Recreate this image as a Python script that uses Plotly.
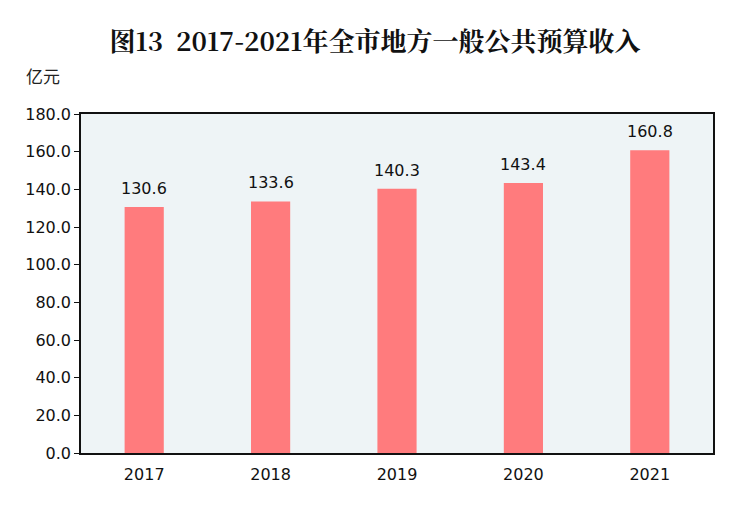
import plotly.graph_objects as go

years = ["2017", "2018", "2019", "2020", "2021"]
revenue = [130.6, 133.6, 140.3, 143.4, 160.8]
y_ticks = [0, 20, 40, 60, 80, 100, 120, 140, 160, 180]
y_tick_labels = [f"{v:.1f}" for v in y_ticks]

fig = go.Figure()
fig.add_trace(go.Bar(
    x=years, y=revenue, width=0.31,
    marker=dict(color="#FF7B7D", line=dict(width=0)),
))

label_annotations = [
    dict(x=i, y=v, xref="x", yref="y", text=f"{v:.1f}", showarrow=False,
         xanchor="center", yanchor="bottom", yshift=7,
         font=dict(family="DejaVu Sans", size=16, color="#111111"))
    for i, v in enumerate(revenue)
]

fig.update_layout(
    width=750, height=516,
    paper_bgcolor="white", plot_bgcolor="#EEF4F6",
    margin=dict(l=81, r=37, t=114, b=63),
    showlegend=False,
    title=dict(text="<b>图13  2017-2021年全市地方一般公共预算收入</b>",
               x=0.5, xanchor="center", y=0.918, yanchor="middle",
               font=dict(family="Noto Serif CJK SC, Noto Sans CJK SC", size=26, color="#111111")),
    xaxis=dict(type="category", range=[-0.5, len(years) - 0.5],
               showline=True, linecolor="#111111", linewidth=1.5, mirror=True,
               ticks="outside", ticklen=6, tickcolor="rgba(0,0,0,0)",
               tickfont=dict(family="DejaVu Sans", size=16, color="#111111"),
               showgrid=False),
    yaxis=dict(range=[0, 180], tickvals=y_ticks, ticktext=y_tick_labels,
               showline=True, linecolor="#111111", linewidth=1.5, mirror=True,
               ticks="outside", ticklen=5, tickcolor="#111111",
               tickfont=dict(family="DejaVu Sans", size=16, color="#111111"),
               showgrid=False, zeroline=False),
    annotations=label_annotations + [
        dict(text="亿元", xref="paper", yref="paper", x=-0.06, y=1.115,
             xanchor="center", yanchor="middle", showarrow=False,
             font=dict(family="Noto Sans CJK SC", size=17, color="#222222"))],
)

fig.write_html("out.html")
